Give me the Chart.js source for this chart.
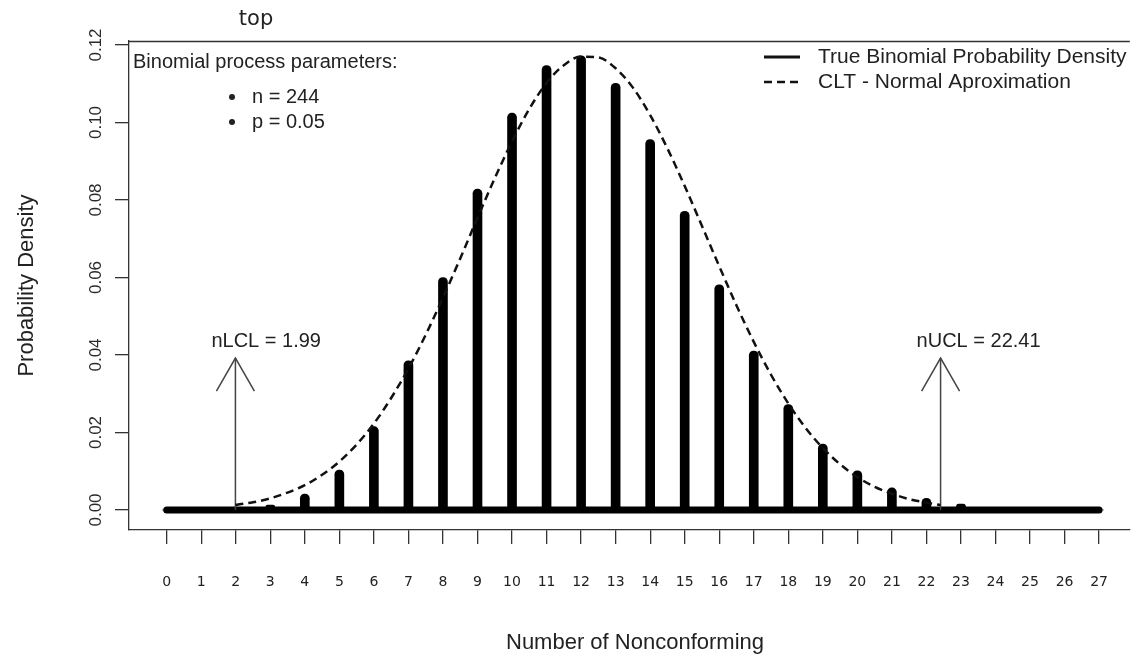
<!DOCTYPE html>
<html><head><meta charset="utf-8">
<script src="https://cdn.jsdelivr.net/npm/chart.js@4.4.1/dist/chart.umd.min.js"></script>
<style>html,body{margin:0;padding:0;background:#fff;}canvas{display:block}</style>
</head><body>
<canvas id="c" width="1138" height="654"></canvas>
<script>
// ---- data ----
const nonconforming = [0,1,2,3,4,5,6,7,8,9,10,11,12,13,14,15,16,17,18,19,20,21,22,23,24,25,26,27];
const binomialDensity = [0,0.0000,0.0003,0.0013,0.0041,0.0103,0.0215,0.0385,0.0600,0.0828,0.1024,0.1147,0.1172,0.1101,0.0956,0.0771,0.0581,0.0410,0.0272,0.0170,0.0101,0.0057,0.0030,0.0015,0.0007,0.0003,0.0001,0];
const cltX = [1.99,2.5,3,3.5,4,4.5,5,5.5,6,6.5,7,7.5,8,8.5,9,9.5,10,10.5,11,11.5,12,12.5,13,13.5,14,14.5,15,15.5,16,16.5,17,17.5,18,18.5,19,19.5,20,20.5,21,21.5,22,22.41];
const cltDensity = [0.0013,0.0020,0.0030,0.0045,0.0064,0.0091,0.0125,0.0169,0.0223,0.0289,0.0365,0.0452,0.0548,0.0649,0.0754,0.0856,0.0951,0.1035,0.1102,0.1148,0.1170,0.1168,0.1140,0.1090,0.1019,0.0933,0.0836,0.0733,0.0629,0.0528,0.0434,0.0349,0.0275,0.0212,0.0160,0.0118,0.0085,0.0060,0.0042,0.0028,0.0019,0.0013];
const xTickValues = nonconforming;
const yTickValues = [0,0.02,0.04,0.06,0.08,0.10,0.12];
const yTickLabels = ['0.00','0.02','0.04','0.06','0.08','0.10','0.12'];
const nLCL = 1.99, nUCL = 22.41;
const arrowTop = 0.0392;
const limitLabelLevel = 0.0434;
const limitLabels = ['nLCL = 1.99','nUCL = 22.41'];
const paramTitle = 'Binomial process parameters:';
const paramItems = ['n = 244','p = 0.05'];
const legendItems = ['True Binomial Probability Density','CLT - Normal Aproximation'];
const chartTitle = 'top';
const xTitle = 'Number of Nonconforming';
const yTitle = 'Probability Density';

const AX = '#333';
const SANS = '"Liberation Sans", Arial, sans-serif';

const decor = {
  id:'decor',
  afterDraw(chart){
    const {ctx, chartArea:a, scales:{x,y}} = chart;
    ctx.save();
    // top border of box
    ctx.strokeStyle = AX; ctx.lineWidth = 1.3;
    ctx.beginPath(); ctx.moveTo(a.left, a.top+0.5); ctx.lineTo(a.right, a.top+0.5); ctx.stroke();
    // y tick labels
    ctx.fillStyle = '#2a2a2a';
    ctx.font = '17px ' + SANS;
    ctx.textAlign = 'center'; ctx.textBaseline = 'middle';
    yTickValues.forEach((v,i)=>{
      ctx.save(); ctx.translate(96, y.getPixelForValue(v)); ctx.rotate(-Math.PI/2);
      ctx.fillText(yTickLabels[i],0,0); ctx.restore();
    });
    // axis titles
    ctx.fillStyle = '#222';
    ctx.font = '22px ' + SANS;
    ctx.fillText(xTitle, 635, 643);
    ctx.save(); ctx.translate(27, (a.top+a.bottom)/2); ctx.rotate(-Math.PI/2); ctx.fillText(yTitle,0,0); ctx.restore();
    // title
    ctx.font = '21px "DejaVu Sans", sans-serif';
    ctx.fillText(chartTitle, 256, 20);
    // arrow heads + labels
    ctx.strokeStyle = '#444'; ctx.lineWidth = 1.5;
    [nLCL,nUCL].forEach((v,i)=>{
      const px = x.getPixelForValue(v), py = y.getPixelForValue(arrowTop);
      ctx.beginPath(); ctx.moveTo(px-19, py+33); ctx.lineTo(px,py); ctx.lineTo(px+19, py+33); ctx.stroke();
      ctx.fillStyle = '#222'; ctx.font = '20px ' + SANS; ctx.textAlign='left';
      ctx.fillText(limitLabels[i], px-24, y.getPixelForValue(limitLabelLevel));
    });
    // parameter box text
    ctx.textAlign = 'left'; ctx.fillStyle = '#222';
    ctx.font = '20px ' + SANS;
    ctx.fillText(paramTitle, 133, 62);
    paramItems.forEach((t,i)=>{
      const yy = 97 + i*25;
      ctx.beginPath(); ctx.arc(232, yy, 3, 0, Math.PI*2); ctx.fill();
      ctx.fillText(t, 252, yy);
    });
    // right legend
    ctx.font = '21px ' + SANS;
    ctx.strokeStyle = '#111';
    legendItems.forEach((t,i)=>{
      const yy = 57 + i*25;
      ctx.lineWidth = i===0 ? 3 : 2.5;
      ctx.setLineDash(i===0 ? [] : [8,5]);
      ctx.beginPath(); ctx.moveTo(764, yy); ctx.lineTo(800, yy); ctx.stroke();
      ctx.setLineDash([]);
      ctx.fillText(t, 818, yy);
    });
    ctx.restore();
  }
};

new Chart(document.getElementById('c'), {
  type:'bar',
  data:{
    datasets:[
      {type:'line', data:cltX.map((v,i)=>({x:v,y:cltDensity[i]})), borderColor:'#111', borderWidth:2.5, borderDash:[8,5], pointRadius:0, cubicInterpolationMode:'monotone', order:0},
      {type:'line', data:[{x:nLCL,y:0},{x:nLCL,y:arrowTop}], borderColor:'#444', borderWidth:1.5, pointRadius:0, order:1},
      {type:'line', data:[{x:nUCL,y:0},{x:nUCL,y:arrowTop}], borderColor:'#444', borderWidth:1.5, pointRadius:0, order:1},
      {type:'line', data:[{x:nonconforming[0],y:0},{x:nonconforming[nonconforming.length-1],y:0}], borderColor:'#000', borderWidth:7, borderCapStyle:'round', pointRadius:0, order:2},
      {type:'bar', data:nonconforming.map((v,i)=>({x:v,y:binomialDensity[i]})), backgroundColor:'#000', barThickness:9, borderRadius:4.5, order:3}
    ]
  },
  options:{
    responsive:false, animation:false, devicePixelRatio:1,
    layout:{padding:{top:41,left:0,right:0,bottom:0}},
    plugins:{legend:{display:false}, tooltip:{enabled:false}},
    scales:{
      x:{type:'linear', min:-1.0915, max:27.89, offset:false,
        afterBuildTicks:s=>{s.ticks = xTickValues.map(v=>({value:v}));},
        afterFit:s=>{s.height = 124;},
        grid:{offset:false, drawOnChartArea:false, drawTicks:true, tickLength:14, color:AX, lineWidth:1.3},
        border:{display:true, color:AX, width:1.3},
        ticks:{padding:30, autoSkip:false, maxRotation:0, color:'#222', font:{family:'DejaVu Sans', size:14}, callback:v=>String(v)}
      },
      y:{type:'linear', min:-0.00516, max:0.12103,
        afterBuildTicks:s=>{s.ticks = yTickValues.map(v=>({value:v}));},
        afterFit:s=>{s.width = 129;},
        grid:{drawOnChartArea:false, drawTicks:true, tickLength:14, color:AX, lineWidth:1.3},
        border:{display:true, color:AX, width:1.3},
        ticks:{display:false}
      }
    }
  },
  plugins:[decor]
});
</script>
</body></html>
